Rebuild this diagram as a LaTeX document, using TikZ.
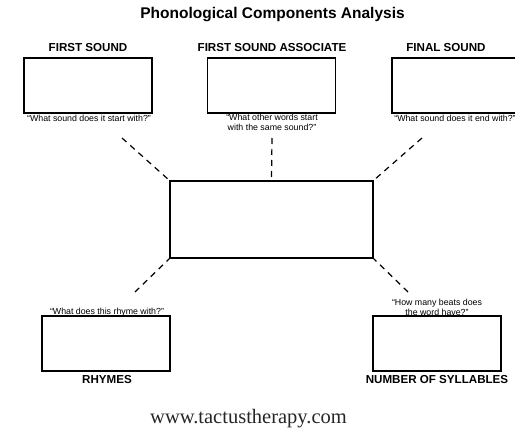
\documentclass[tikz,border=0pt]{standalone}
\usepackage{fontspec}
\setmainfont{Liberation Sans}
\newfontfamily\urlfont{Liberation Serif}
\begin{document}
\begin{tikzpicture}[x=1pt,y=-1pt,
  answerbox/.style={draw=black,line width=1.1pt,minimum width=128pt,minimum height=55pt,inner sep=0pt},
  hubbox/.style={draw=black,line width=1.5pt,minimum width=203pt,minimum height=77pt,inner sep=0pt},
  heading/.style={font=\fontsize{11.6}{13}\selectfont\bfseries,inner sep=0pt},
  prompt/.style={font=\fontsize{8.8}{10}\selectfont,inner sep=0pt,align=center},
  link/.style={line width=1.2pt,dash pattern=on 6pt off 5pt}]
\useasboundingbox (0,0) rectangle (515,431);
\clip (0,0) rectangle (515,431);

% title
\node[font=\fontsize{15.5}{17}\selectfont\bfseries,inner sep=0pt] (title) at (272.5,15) {Phonological Components Analysis};

% top row
\node[heading] (h1) at (88,48) {FIRST SOUND};
\node[answerbox] (b1) at (88,85.5) {};
\node[prompt] (p1) at (89,118) {“What sound does it start with?”};

\node[heading] (h2) at (272,48) {FIRST SOUND ASSOCIATE};
\node[answerbox] (b2) at (271.5,85.5) {};
\node[prompt,anchor=north] (p2) at (272,114) {“What other words start\\with the same sound?”};

\node[heading] (h3) at (446,48) {FINAL SOUND};
\node[answerbox] (b3) at (456,85.5) {};
\node[prompt] (p3) at (455,118) {“What sound does it end with?”};

% central box
\node[hubbox] (hub) at (271.5,219.5) {};

% bottom row
\node[prompt] (p4) at (107,312) {“What does this rhyme with?”};
\node[answerbox] (b4) at (106,343.5) {};
\node[heading] (h4) at (107,380) {RHYMES};

\node[prompt,anchor=south] (p5) at (437,316) {“How many beats does\\the word have?”};
\node[answerbox] (b5) at (437,343.5) {};
\node[heading] (h5) at (437,380) {NUMBER OF SYLLABLES};

% dashed connectors
\coordinate (e1) at (122,138);
\coordinate (e2) at (272,138);
\coordinate (e3) at (422,138);
\coordinate (e4) at (135,292);
\coordinate (e5) at (408,292);
\draw[link] (e1) -- (hub.north west);
\draw[link] (e2) -- (hub.north);
\draw[link] (e3) -- (hub.north east);
\draw[link] (e4) -- (hub.south west);
\draw[link] (e5) -- (hub.south east);

% footer
\node[font=\urlfont\fontsize{20.5}{22}\selectfont,text=black!85,inner sep=0pt] (url) at (248.5,419) {www.tactustherapy.com};
\end{tikzpicture}
\end{document}
